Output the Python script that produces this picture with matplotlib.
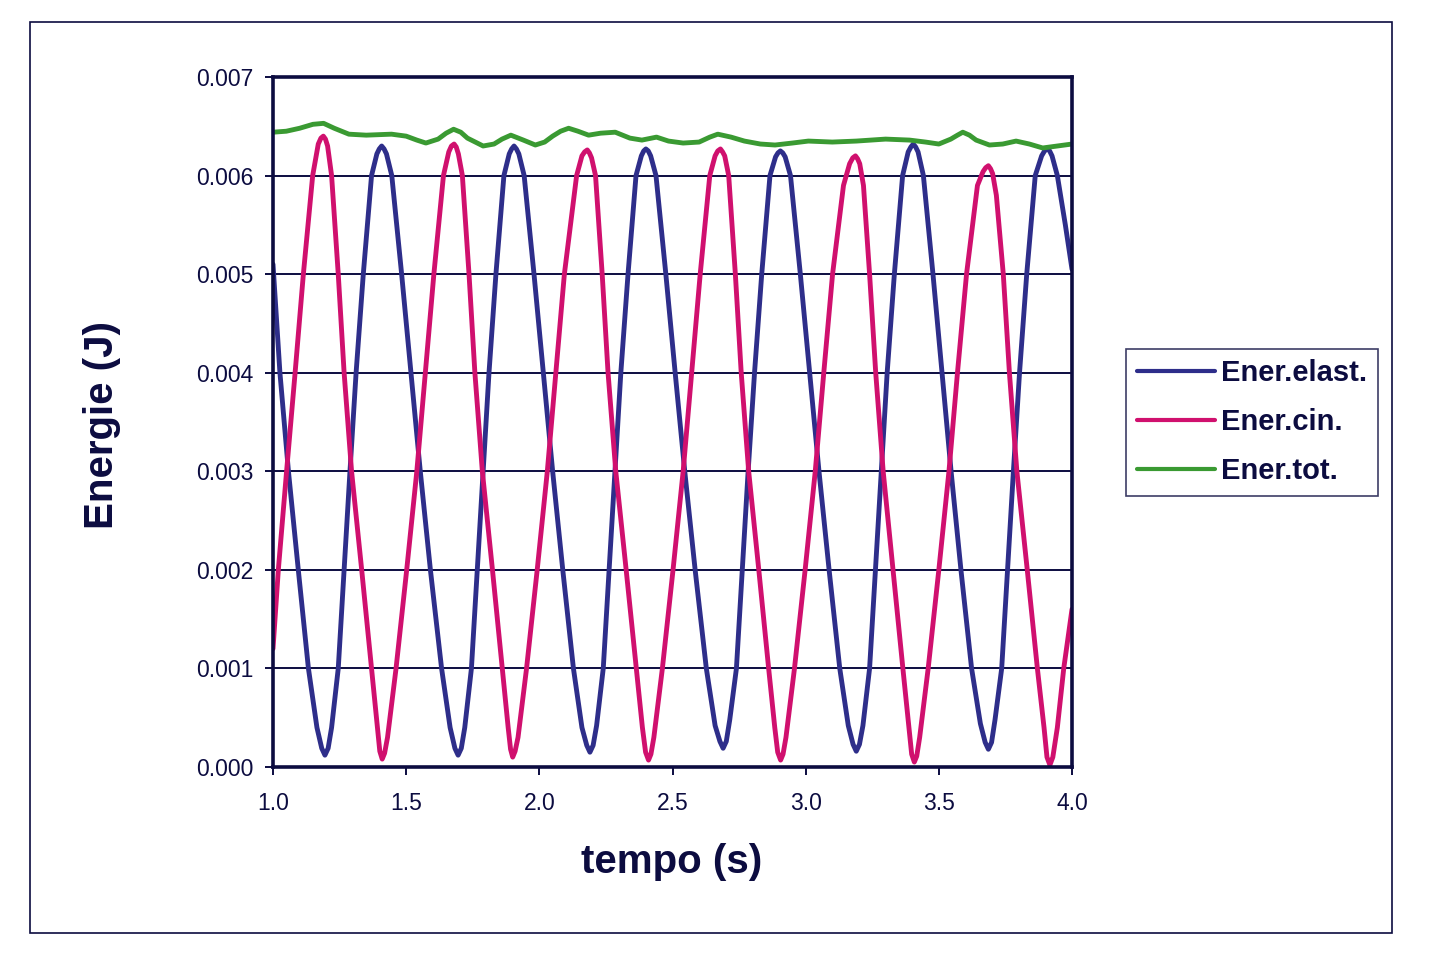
import matplotlib
matplotlib.use("Agg")
import matplotlib.pyplot as plt
from matplotlib.patches import Rectangle
from matplotlib.ticker import FormatStrFormatter, MultipleLocator

plt.rcParams['font.family'] = ['Liberation Sans', 'DejaVu Sans']

# energia elastica (J)
t_elast = [1.000, 1.026, 1.058, 1.095, 1.133, 1.165, 1.183, 1.195, 1.207, 1.220,
           1.245, 1.267, 1.289, 1.312, 1.339, 1.370, 1.390, 1.399, 1.408, 1.417,
           1.426, 1.446, 1.483, 1.518, 1.553, 1.591, 1.633, 1.665, 1.683, 1.695,
           1.707, 1.720, 1.745, 1.767, 1.789, 1.811, 1.837, 1.867, 1.887, 1.896,
           1.905, 1.914, 1.923, 1.943, 1.980, 2.015, 2.050, 2.088, 2.128, 2.160,
           2.178, 2.190, 2.202, 2.215, 2.240, 2.262, 2.284, 2.306, 2.333, 2.363,
           2.383, 2.392, 2.400, 2.409, 2.418, 2.438, 2.475, 2.510, 2.546, 2.585,
           2.627, 2.660, 2.678, 2.690, 2.702, 2.715, 2.740, 2.762, 2.784, 2.808,
           2.835, 2.866, 2.887, 2.896, 2.905, 2.914, 2.923, 2.943, 2.980, 3.015,
           3.050, 3.088, 3.128, 3.160, 3.178, 3.190, 3.202, 3.215, 3.240, 3.262,
           3.284, 3.306, 3.333, 3.364, 3.385, 3.395, 3.404, 3.413, 3.422, 3.442,
           3.478, 3.512, 3.546, 3.583, 3.623, 3.656, 3.674, 3.686, 3.698, 3.711,
           3.736, 3.758, 3.780, 3.803, 3.830, 3.862, 3.886, 3.897, 3.907, 3.916,
           3.925, 3.945, 3.975, 4.000]
e_elast = [0.00510, 0.00400, 0.00300, 0.00200, 0.00100, 0.00040, 0.00019, 0.00012, 0.00019, 0.00040,
           0.00100, 0.00200, 0.00300, 0.00400, 0.00500, 0.00600, 0.00622, 0.00627, 0.00630, 0.00627,
           0.00622, 0.00600, 0.00500, 0.00400, 0.00300, 0.00200, 0.00100, 0.00040, 0.00019, 0.00012,
           0.00019, 0.00040, 0.00100, 0.00200, 0.00300, 0.00400, 0.00500, 0.00600, 0.00622, 0.00627,
           0.00630, 0.00627, 0.00622, 0.00600, 0.00500, 0.00400, 0.00300, 0.00200, 0.00100, 0.00040,
           0.00022, 0.00015, 0.00022, 0.00042, 0.00100, 0.00200, 0.00300, 0.00400, 0.00500, 0.00600,
           0.00620, 0.00625, 0.00627, 0.00625, 0.00620, 0.00600, 0.00500, 0.00400, 0.00300, 0.00200,
           0.00100, 0.00042, 0.00026, 0.00019, 0.00026, 0.00048, 0.00100, 0.00200, 0.00300, 0.00400,
           0.00500, 0.00600, 0.00619, 0.00623, 0.00625, 0.00623, 0.00619, 0.00600, 0.00500, 0.00400,
           0.00300, 0.00200, 0.00100, 0.00042, 0.00023, 0.00016, 0.00023, 0.00042, 0.00100, 0.00200,
           0.00300, 0.00400, 0.00500, 0.00600, 0.00624, 0.00629, 0.00632, 0.00629, 0.00624, 0.00600,
           0.00500, 0.00400, 0.00300, 0.00200, 0.00100, 0.00044, 0.00025, 0.00018, 0.00025, 0.00048,
           0.00100, 0.00200, 0.00300, 0.00400, 0.00500, 0.00600, 0.00620, 0.00625, 0.00627, 0.00625,
           0.00620, 0.00600, 0.00550, 0.00505]

# energia cinetica (J)
t_cin = [1.000, 1.020, 1.051, 1.083, 1.114, 1.149, 1.170, 1.180, 1.189, 1.197,
         1.205, 1.220, 1.245, 1.267, 1.295, 1.333, 1.370, 1.392, 1.401, 1.410,
         1.419, 1.430, 1.462, 1.502, 1.540, 1.572, 1.604, 1.640, 1.660, 1.670,
         1.680, 1.688, 1.696, 1.711, 1.736, 1.758, 1.786, 1.824, 1.861, 1.883,
         1.892, 1.900, 1.909, 1.920, 1.952, 1.992, 2.030, 2.062, 2.094, 2.140,
         2.160, 2.170, 2.180, 2.188, 2.196, 2.211, 2.236, 2.258, 2.287, 2.326,
         2.364, 2.387, 2.399, 2.410, 2.419, 2.430, 2.462, 2.502, 2.540, 2.572,
         2.604, 2.640, 2.660, 2.670, 2.680, 2.688, 2.696, 2.711, 2.736, 2.758,
         2.786, 2.824, 2.861, 2.884, 2.895, 2.906, 2.915, 2.926, 2.958, 2.998,
         3.036, 3.068, 3.101, 3.142, 3.165, 3.177, 3.187, 3.195, 3.203, 3.217,
         3.240, 3.263, 3.291, 3.328, 3.365, 3.388, 3.398, 3.408, 3.417, 3.428,
         3.460, 3.500, 3.538, 3.570, 3.604, 3.645, 3.666, 3.676, 3.686, 3.694,
         3.702, 3.716, 3.742, 3.765, 3.793, 3.832, 3.870, 3.895, 3.906, 3.917,
         3.928, 3.945, 3.969, 4.000]
e_cin = [0.00120, 0.00200, 0.00300, 0.00400, 0.00500, 0.00600, 0.00632, 0.00638, 0.00640, 0.00637,
         0.00630, 0.00600, 0.00500, 0.00400, 0.00300, 0.00200, 0.00100, 0.00040, 0.00016, 0.00008,
         0.00014, 0.00030, 0.00100, 0.00200, 0.00300, 0.00400, 0.00500, 0.00600, 0.00624, 0.00630,
         0.00632, 0.00629, 0.00622, 0.00600, 0.00500, 0.00400, 0.00300, 0.00200, 0.00100, 0.00040,
         0.00018, 0.00010, 0.00016, 0.00030, 0.00100, 0.00200, 0.00300, 0.00400, 0.00500, 0.00600,
         0.00620, 0.00624, 0.00626, 0.00623, 0.00618, 0.00600, 0.00500, 0.00400, 0.00300, 0.00200,
         0.00100, 0.00040, 0.00015, 0.00007, 0.00013, 0.00030, 0.00100, 0.00200, 0.00300, 0.00400,
         0.00500, 0.00600, 0.00620, 0.00625, 0.00627, 0.00624, 0.00620, 0.00600, 0.00500, 0.00400,
         0.00300, 0.00200, 0.00100, 0.00040, 0.00015, 0.00007, 0.00013, 0.00030, 0.00100, 0.00200,
         0.00300, 0.00400, 0.00500, 0.00590, 0.00612, 0.00618, 0.00620, 0.00617, 0.00612, 0.00590,
         0.00500, 0.00400, 0.00300, 0.00200, 0.00100, 0.00040, 0.00013, 0.00005, 0.00011, 0.00030,
         0.00100, 0.00200, 0.00300, 0.00400, 0.00500, 0.00590, 0.00604, 0.00608, 0.00610, 0.00607,
         0.00602, 0.00580, 0.00500, 0.00400, 0.00300, 0.00200, 0.00100, 0.00040, 0.00010, 0.00002,
         0.00010, 0.00040, 0.00100, 0.00160]

# energia totale (J)
t_tot = [1.000, 1.050, 1.100, 1.150, 1.190, 1.230, 1.285, 1.350, 1.445, 1.500,
         1.540, 1.574, 1.620, 1.650, 1.678, 1.705, 1.730, 1.789, 1.830, 1.860,
         1.893, 1.940, 1.985, 2.020, 2.050, 2.080, 2.110, 2.145, 2.185, 2.230,
         2.285, 2.340, 2.385, 2.440, 2.485, 2.540, 2.600, 2.640, 2.670, 2.720,
         2.770, 2.830, 2.885, 2.950, 3.010, 3.100, 3.190, 3.300, 3.390, 3.450,
         3.500, 3.545, 3.570, 3.590, 3.615, 3.640, 3.690, 3.740, 3.790, 3.840,
         3.890, 3.945, 4.000]
e_tot = [0.00644, 0.00645, 0.00648, 0.00652, 0.00653, 0.00648, 0.00642, 0.00641, 0.00642, 0.00640,
         0.00636, 0.00633, 0.00637, 0.00643, 0.00647, 0.00644, 0.00638, 0.00630, 0.00632, 0.00637,
         0.00641, 0.00636, 0.00631, 0.00634, 0.00640, 0.00645, 0.00648, 0.00645, 0.00641, 0.00643,
         0.00644, 0.00638, 0.00636, 0.00639, 0.00635, 0.00633, 0.00634, 0.00639, 0.00642, 0.00639,
         0.00635, 0.00632, 0.00631, 0.00633, 0.00635, 0.00634, 0.00635, 0.00637, 0.00636, 0.00634,
         0.00632, 0.00637, 0.00641, 0.00644, 0.00641, 0.00636, 0.00631, 0.00632, 0.00635, 0.00632,
         0.00628, 0.00630, 0.00632]

labels = ['Ener.elast.', 'Ener.cin.', 'Ener.tot.']
colours = ['#2e2e8a', '#d0106e', '#3a9a32']
navy = '#0c0c40'

fig = plt.figure(figsize=(14.32, 9.6), dpi=100)
fig.patches.append(Rectangle((30 / 1432, 1 - 933 / 960), 1362 / 1432, 911 / 960,
                             transform=fig.transFigure, fill=False,
                             edgecolor=navy, linewidth=1.2))

ax = fig.add_axes([273 / 1432, 1 - 767 / 960, 799 / 1432, 690 / 960])
ax.yaxis.grid(True, color=navy, linewidth=1.4)
ax.set_axisbelow(True)

for (tx, ey), lab, col in zip([(t_elast, e_elast), (t_cin, e_cin), (t_tot, e_tot)], labels, colours):
    ax.plot(tx, ey, color=col, linewidth=3.5, label=lab,
            solid_joinstyle='round', solid_capstyle='round')

ax.set_xlim(1.0, 4.0)
ax.set_ylim(0.0, 0.007)
ax.xaxis.set_major_locator(MultipleLocator(0.5))
ax.yaxis.set_major_locator(MultipleLocator(0.001))
ax.xaxis.set_major_formatter(FormatStrFormatter('%.1f'))
ax.yaxis.set_major_formatter(FormatStrFormatter('%.3f'))
ax.tick_params(axis='both', direction='out', length=6, width=1.4, color=navy,
               labelsize=16.5, labelcolor=navy)
ax.tick_params(axis='x', pad=12)
ax.tick_params(axis='y', pad=8)
for s in ax.spines.values():
    s.set_color(navy)
    s.set_linewidth(2.6)

fig.text(672 / 1432, 1 - 862 / 960, 'tempo (s)', ha='center', va='center',
         fontsize=29, fontweight='bold', color=navy)
fig.text(102 / 1432, 1 - 425 / 960, 'Energie (J)', ha='center', va='center',
         rotation=90, fontsize=29, fontweight='bold', color=navy)

leg = ax.legend(loc='center left', bbox_to_anchor=(1126 / 1432, 1 - 422 / 960),
                bbox_transform=fig.transFigure, fontsize=21, frameon=True,
                fancybox=False, shadow=False, handlelength=2.7, handletextpad=0.2,
                labelspacing=0.72, borderpad=0.36, borderaxespad=0)
leg.get_frame().set_edgecolor(navy)
leg.get_frame().set_linewidth(1.2)
for line in leg.get_lines():
    line.set_linewidth(3.0)
for txt in leg.get_texts():
    txt.set_fontweight('bold')
    txt.set_color(navy)

fig.savefig('out.png', dpi=100)
